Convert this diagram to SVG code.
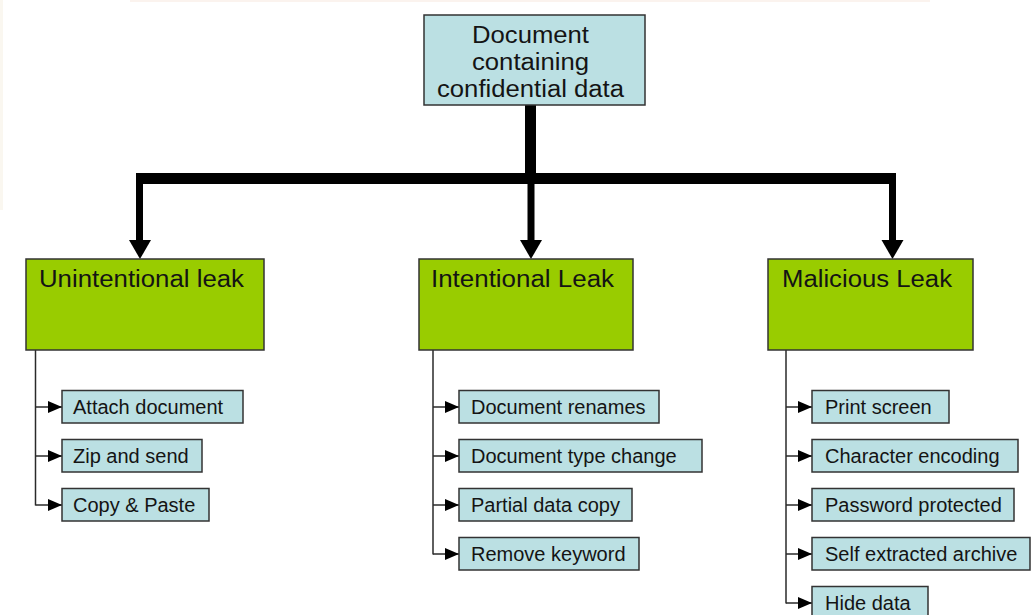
<svg xmlns="http://www.w3.org/2000/svg" width="1033" height="615" viewBox="0 0 1033 615">
  <style>
    .root { fill: #bbe0e3; stroke: #333; stroke-width: 1.5; }
    .cat { fill: #99cc00; stroke: #333; stroke-width: 1.5; }
    .item { fill: #bbe0e3; stroke: #333; stroke-width: 1.5; }
    .big { font-family: "Liberation Sans", Arial, sans-serif; font-size: 23px; fill: #141414; }
    .small { font-family: "Liberation Sans", Arial, sans-serif; font-size: 20px; fill: #141414; }
    .thin { fill: none; stroke: #2a2a2a; stroke-width: 1.5; }
    .thick { fill: #000; stroke: none; }
  </style>
  <defs>
    <marker id="tip" markerUnits="userSpaceOnUse" markerWidth="14" markerHeight="12" refX="14" refY="6" orient="auto">
      <path d="M0,0 L14,6 L0,12 Z" fill="#000"/>
    </marker>
  </defs>

  <rect width="1033" height="615" fill="#fff"/>
  <!-- faint paper tint along the edges -->
  <rect x="0" y="0" width="3" height="210" fill="#faf7f0"/>
  <rect x="130" y="0" width="800" height="2" fill="#fbf3ee"/>

  <!-- connectors -->
  <g id="connectors">
    <!-- trunk from the root down to the distribution bar -->
    <rect class="thick" x="525" y="104" width="11" height="70"/>
    <rect class="thick" x="136" y="173" width="760" height="11"/>
    <!-- drops to the three categories -->
    <rect class="thick" x="136" y="173" width="7" height="68"/>
    <rect class="thick" x="527.5" y="184" width="7" height="57"/>
    <rect class="thick" x="889" y="173" width="7" height="68"/>
    <polygon class="thick" points="129,240 151,240 140,259"/>
    <polygon class="thick" points="520,240 542,240 531,259"/>
    <polygon class="thick" points="881.5,240 903.5,240 892.5,259"/>

    <!-- category spines -->
    <path class="thin" d="M35.5,350 V505.5"/>
    <path class="thin" d="M433,350 V554.5"/>
    <path class="thin" d="M786,350 V603.5"/>

    <!-- item branches -->
    <path class="thin" d="M35.5,407 H62" marker-end="url(#tip)"/>
    <path class="thin" d="M35.5,456 H62" marker-end="url(#tip)"/>
    <path class="thin" d="M35.5,505 H62" marker-end="url(#tip)"/>

    <path class="thin" d="M433,407 H459" marker-end="url(#tip)"/>
    <path class="thin" d="M433,456 H459" marker-end="url(#tip)"/>
    <path class="thin" d="M433,505 H459" marker-end="url(#tip)"/>
    <path class="thin" d="M433,554 H459" marker-end="url(#tip)"/>

    <path class="thin" d="M786,407 H812" marker-end="url(#tip)"/>
    <path class="thin" d="M786,456 H812" marker-end="url(#tip)"/>
    <path class="thin" d="M786,505 H812" marker-end="url(#tip)"/>
    <path class="thin" d="M786,554 H812" marker-end="url(#tip)"/>
    <path class="thin" d="M786,603 H812" marker-end="url(#tip)"/>
  </g>

  <!-- root -->
  <g id="root">
    <rect class="root" x="424" y="15" width="221" height="90"/>
    <text class="big" x="530.5" y="43" text-anchor="middle" textLength="117" lengthAdjust="spacingAndGlyphs">Document</text>
    <text class="big" x="530.5" y="70" text-anchor="middle" textLength="117" lengthAdjust="spacingAndGlyphs">containing</text>
    <text class="big" x="530.5" y="97" text-anchor="middle" textLength="187" lengthAdjust="spacingAndGlyphs">confidential data</text>
  </g>

  <!-- categories -->
  <g id="unintentional">
    <rect class="cat" x="26" y="259" width="238" height="91"/>
    <text class="big" x="39" y="287" textLength="205" lengthAdjust="spacingAndGlyphs">Unintentional leak</text>
  </g>
  <g id="intentional">
    <rect class="cat" x="419" y="259" width="214" height="91"/>
    <text class="big" x="431" y="287" textLength="183" lengthAdjust="spacingAndGlyphs">Intentional Leak</text>
  </g>
  <g id="malicious">
    <rect class="cat" x="768" y="259" width="205" height="91"/>
    <text class="big" x="782" y="287" textLength="170" lengthAdjust="spacingAndGlyphs">Malicious Leak</text>
  </g>

  <!-- unintentional items -->
  <g id="attach-document">
    <rect class="item" x="62" y="390.5" width="181" height="32.5"/>
    <text class="small" x="73" y="414">Attach document</text>
  </g>
  <g id="zip-and-send">
    <rect class="item" x="62" y="439.5" width="140" height="32.5"/>
    <text class="small" x="73" y="463">Zip and send</text>
  </g>
  <g id="copy-paste">
    <rect class="item" x="62" y="488.5" width="147" height="32.5"/>
    <text class="small" x="73" y="512">Copy &amp; Paste</text>
  </g>

  <!-- intentional items -->
  <g id="document-renames">
    <rect class="item" x="459" y="390.5" width="200" height="32.5"/>
    <text class="small" x="471" y="414">Document renames</text>
  </g>
  <g id="document-type-change">
    <rect class="item" x="459" y="439.5" width="243" height="32.5"/>
    <text class="small" x="471" y="463">Document type change</text>
  </g>
  <g id="partial-data-copy">
    <rect class="item" x="459" y="488.5" width="173" height="32.5"/>
    <text class="small" x="471" y="512">Partial data copy</text>
  </g>
  <g id="remove-keyword">
    <rect class="item" x="459" y="537.5" width="180" height="32.5"/>
    <text class="small" x="471" y="561">Remove keyword</text>
  </g>

  <!-- malicious items -->
  <g id="print-screen">
    <rect class="item" x="812" y="390.5" width="137" height="32.5"/>
    <text class="small" x="825" y="414">Print screen</text>
  </g>
  <g id="character-encoding">
    <rect class="item" x="812" y="439.5" width="206" height="32.5"/>
    <text class="small" x="825" y="463">Character encoding</text>
  </g>
  <g id="password-protected">
    <rect class="item" x="812" y="488.5" width="202" height="32.5"/>
    <text class="small" x="825" y="512">Password protected</text>
  </g>
  <g id="self-extracted-archive">
    <rect class="item" x="812" y="537.5" width="218" height="32.5"/>
    <text class="small" x="825" y="561">Self extracted archive</text>
  </g>
  <g id="hide-data">
    <rect class="item" x="812" y="586.5" width="116" height="32.5"/>
    <text class="small" x="825" y="610">Hide data</text>
  </g>
</svg>
